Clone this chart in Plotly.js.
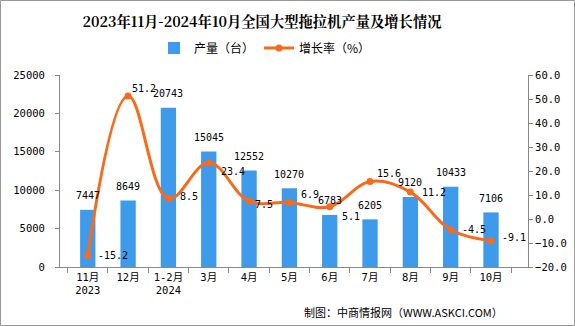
<!DOCTYPE html>
<html><head><meta charset="utf-8">
<script src="https://cdn.plot.ly/plotly-3.0.1.min.js"></script>
<style>html,body{margin:0;padding:0;background:#fff}#c{width:575px;height:326px}</style>
</head><body><div id="c"></div>
<script>
const categories = ["11月<br>2023","12月","1-2月<br>2024","3月","4月","5月","6月","7月","8月","9月","10月"];
const production = [7447, 8649, 20743, 15045, 12552, 10270, 6783, 6205, 9120, 10433, 7106];
const growth = [-15.2, 51.2, 8.5, 23.4, 7.5, 6.9, 5.1, 15.6, 11.2, -4.5, -9.1];

// label offsets (pixels) for growth labels
const gx = [8, 2, 10, 10, 4, 10, 10, 5, 10, 9, 9];
const gy = [0, 8, 2, -9, -3, 8, -10, 8, 0, 0, 3];

const font = "'DejaVu Sans Mono','Noto Sans CJK SC',monospace";
const cjk = "'Noto Sans CJK SC','Noto Sans',sans-serif";
const ORANGE = '#F96A1B';

const traces = [
  {type:'bar', name:'产量（台）', x:categories, y:production,
   marker:{color:'#3E9BEB'}, hoverinfo:'none'},
  {type:'scatter', mode:'lines+markers', name:'增长率（%）', x:categories, y:growth, yaxis:'y2',
   line:{color:ORANGE, width:3, shape:'spline', smoothing:1.1}, marker:{color:ORANGE, size:7},
   cliponaxis:false, hoverinfo:'none'}
];

const annotations = [];
categories.forEach((c,i)=>{
  annotations.push({x:c, y:production[i], xref:'x', yref:'y', text:String(production[i]), showarrow:false,
    xanchor:'center', yanchor:'middle', yshift:14, font:{family:font, size:10, color:'#000'}});
  annotations.push({x:c, y:growth[i], xref:'x', yref:'y2', text:growth[i].toFixed(1), showarrow:false,
    xanchor:'left', yanchor:'middle', xshift:gx[i], yshift:gy[i], font:{family:font, size:10, color:'#000'}});
});
annotations.push({xref:'paper', yref:'paper', x:(505-60)/468, y:-(312-267)/192, xanchor:'right', yanchor:'middle', showarrow:false,
  text:'制图：中商情报网（WWW.ASKCI.COM）', font:{family:cjk, size:11, color:'#000'}});

const layout = {
  width:575, height:326,
  margin:{l:60, r:47, t:75, b:59},
  paper_bgcolor:'#fff', plot_bgcolor:'rgba(0,0,0,0)',
  bargap:0.62,
  showlegend:true,
  title:{text:'<b>2023年11月-2024年10月全国大型拖拉机产量及增长情况</b>', x:262/575, xanchor:'center', y:1-22/326, yanchor:'middle',
         font:{family:"'Noto Serif CJK SC','Noto Sans CJK SC',serif", size:14.3, color:'#000'}},
  legend:{orientation:'h', x:(265-60)/468, xanchor:'center', y:1.14, yanchor:'middle', font:{family:cjk, size:12, color:'#000'},
          traceorder:'normal', bgcolor:'rgba(0,0,0,0)'},
  xaxis:{type:'category', showline:true, linecolor:'#888', linewidth:1, ticks:'outside', tickson:'boundaries',
         ticklen:5, tickcolor:'#888', tickfont:{family:font, size:10.5, color:'#000'}, showgrid:false, zeroline:false},
  yaxis:{range:[0,25000], dtick:5000, showline:true, linecolor:'#888', linewidth:1, ticks:'outside', ticklen:4, tickcolor:'#888',
         ticklabelstandoff:8,
         tickfont:{family:font, size:10.5, color:'#000'}, showgrid:false, zeroline:false, tickformat:'d'},
  yaxis2:{overlaying:'y', side:'right', range:[-20,60], dtick:10, showline:true, linecolor:'#888', linewidth:1,
          ticks:'outside', ticklen:4, tickcolor:'#888', tickformat:'.1f',
          tickfont:{family:font, size:10.5, color:'#000'}, showgrid:false, zeroline:false},
  shapes:[{type:'rect', xref:'paper', yref:'paper', x0:-59.5/468, x1:1+46.5/468, y0:-58.5/192, y1:1+74.5/192,
           line:{color:'#999', width:1}, fillcolor:'rgba(0,0,0,0)'}],
  annotations:annotations
};
Plotly.newPlot('c', traces, layout, {staticPlot:true, displayModeBar:false});
</script></body></html>
